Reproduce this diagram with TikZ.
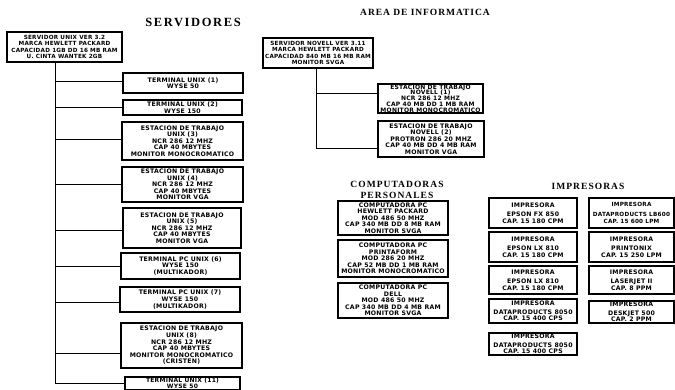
\documentclass[tikz,border=0pt]{standalone}
\usepackage{fontspec}
\newfontfamily\bxfont{DejaVu Sans}[LetterSpace=4]
\newfontfamily\ttlfont{Liberation Serif}
\tikzset{
 box/.style={draw, line width=1.1pt, align=center, inner sep=0pt,
   font=\bxfont\bfseries\fontsize{6.2}{6.6}\selectfont},
 tightbox/.style={box, font=\bxfont\bfseries\fontsize{6}{5.8}\selectfont},
 narrowbox/.style={box, font=\bxfont\bfseries\fontsize{5.7}{6.6}\selectfont},
 link/.style={line width=1pt},
 ttlbig/.style={inner sep=0pt, font=\ttlfont\bfseries\fontsize{12.5}{13}\selectfont\addfontfeature{LetterSpace=13}},
 ttlmid/.style={inner sep=0pt, align=center, font=\ttlfont\bfseries\fontsize{9.5}{10.5}\selectfont\addfontfeature{LetterSpace=11}},
 ttlsmall/.style={inner sep=0pt, font=\ttlfont\bfseries\fontsize{9.5}{10}\selectfont\addfontfeature{LetterSpace=10}}
}
\begin{document}
\begin{tikzpicture}[x=1pt,y=-1pt]
\useasboundingbox (0,0) rectangle (675,389);
\clip (0,0) rectangle (675,389);

% titles
\node[ttlbig] (tserv) at (193,22) {SERVIDORES};
\node[ttlsmall] (tarea) at (425,12) {AREA DE INFORMATICA};
\node[ttlmid] (tpc) at (397,190) {COMPUTADORAS\\PERSONALES};
\node[ttlmid] (timp) at (588,186) {IMPRESORAS};

% left: UNIX server and branches
\node[narrowbox, minimum width=115pt, minimum height=30pt] (sv1) at (64.5,47)
 {SERVIDOR UNIX VER 3.2\\MARCA HEWLETT PACKARD\\CAPACIDAD 1GB DD 16 MB RAM\\U. CINTA WANTEK 2GB};
\node[box, minimum width=120pt, minimum height=20pt] (t1) at (183,83)
 {TERMINAL UNIX (1)\\WYSE 50};
\node[box, minimum width=119pt, minimum height=15pt] (t2) at (182.5,107.5)
 {TERMINAL UNIX (2)\\WYSE 150};
\node[box, minimum width=121pt, minimum height=38pt] (t3) at (182.5,141)
 {ESTACION DE TRABAJO\\UNIX (3)\\NCR 286 12 MHZ\\CAP 40 MBYTES\\MONITOR MONOCROMATICO};
\node[box, minimum width=121pt, minimum height=35pt] (t4) at (182.5,184.5)
 {ESTACION DE TRABAJO\\UNIX (4)\\NCR 286 12 MHZ\\CAP 40 MBYTES\\MONITOR VGA};
\node[box, minimum width=118pt, minimum height=40pt] (t5) at (182,228)
 {ESTACION DE TRABAJO\\UNIX (5)\\NCR 286 12 MHZ\\CAP 40 MBYTES\\MONITOR VGA};
\node[box, minimum width=119pt, minimum height=26pt] (t6) at (180.5,266)
 {TERMINAL PC UNIX (6)\\WYSE 150\\(MULTIKADOR)};
\node[box, minimum width=120pt, minimum height=25pt] (t7) at (180,299.5)
 {TERMINAL PC UNIX (7)\\WYSE 150\\(MULTIKADOR)};
\node[box, minimum width=121pt, minimum height=45pt] (t8) at (181.5,345.5)
 {ESTACION DE TRABAJO\\UNIX (8)\\NCR 286 12 MHZ\\CAP 40 MBYTES\\MONITOR MONOCROMATICO\\(CRISTEN)};
\node[tightbox, minimum width=115pt, minimum height=13pt] (t9) at (182.5,383.5)
 {TERMINAL UNIX (11)\\WYSE 50};

\coordinate (sp1) at (55,383);
\coordinate (b1) at ([yshift=2pt]t1.west);
\coordinate (b2) at (t2.west);
\coordinate (b3) at ([yshift=2pt]t3.west);
\coordinate (b4) at (t4.west);
\coordinate (b5) at ([yshift=-2pt]t5.west);
\coordinate (b6) at (t6.west);
\coordinate (b7) at ([yshift=-2.5pt]t7.west);
\coordinate (b8) at ([yshift=-7.5pt]t8.west);
\coordinate (b9) at ([yshift=0.5pt]t9.west);
\draw[link] (sp1 |- sv1.south) -- (sp1) -- (b9);
\foreach \i in {1,...,8} {\draw[link] (b\i -| sp1) -- (b\i);}

% right: NOVELL server
\node[narrowbox, minimum width=110pt, minimum height=30pt] (sv2) at (318,53)
 {SERVIDOR NOVELL VER 3.11\\MARCA HEWLETT PACKARD\\CAPACIDAD 840 MB 16 MB RAM\\MONITOR SVGA};
\node[tightbox, minimum width=105pt, minimum height=29pt] (ea) at (430.5,98.5)
 {ESTACION DE TRABAJO\\NOVELL (1)\\NCR 286 12 MHZ\\CAP 40 MB DD 1 MB RAM\\MONITOR MONOCROMATICO};
\node[box, minimum width=106pt, minimum height=36pt] (eb) at (431,139)
 {ESTACION DE TRABAJO\\NOVELL (2)\\PROTRON 286 20 MHZ\\CAP 40 MB DD 4 MB RAM\\MONITOR VGA};
\coordinate (sp2) at (316,148);
\coordinate (ba) at ([yshift=5.5pt]ea.west);
\coordinate (bb) at ([yshift=-9pt]eb.west);
\draw[link] (sp2 |- sv2.south) -- (sp2) -- (bb);
\draw[link] (ba -| sp2) -- (ba);

% personal computers
\node[box, minimum width=110pt, minimum height=34pt] (pc1) at (393,218)
 {COMPUTADORA PC\\HEWLETT PACKARD\\MOD 486 50 MHZ\\CAP 340 MB DD 8 MB RAM\\MONITOR SVGA};
\node[box, minimum width=110pt, minimum height=37pt] (pc2) at (393,258.5)
 {COMPUTADORA PC\\PRINTAFORM\\MOD 286 20 MHZ\\CAP 52 MB DD 1 MB RAM\\MONITOR MONOCROMATICO};
\node[box, minimum width=110pt, minimum height=35pt] (pc3) at (393,300.5)
 {COMPUTADORA PC\\DELL\\MOD 486 50 MHZ\\CAP 340 MB DD 4 MB RAM\\MONITOR SVGA};

% printers
\node[box, minimum width=88pt, minimum height=30pt] (p1) at (533,213)
 {IMPRESORA\\[3pt]EPSON FX 850\\CAP. 15 180 CPM};
\node[box, minimum width=88pt, minimum height=30pt] (p2) at (533,247)
 {IMPRESORA\\[3pt]EPSON LX 810\\CAP. 15 180 CPM};
\node[box, minimum width=88pt, minimum height=28pt] (p3) at (533,280)
 {IMPRESORA\\[3pt]EPSON LX 810\\CAP. 15 180 CPM};
\node[box, minimum width=88pt, minimum height=24pt] (p4) at (533,311)
 {IMPRESORA\\[2pt]DATAPRODUCTS 8050\\CAP. 15 400 CPS};
\node[box, minimum width=88pt, minimum height=22pt] (p5) at (533,344)
 {IMPRESORA\\[2pt]DATAPRODUCTS 8050\\CAP. 15 400 CPS};
\node[narrowbox, minimum width=85pt, minimum height=30pt] (p6) at (631.5,213)
 {IMPRESORA\\[3pt]DATAPRODUCTS LB600\\CAP. 15 600 LPM};
\node[box, minimum width=85pt, minimum height=30pt] (p7) at (631.5,247)
 {IMPRESORA\\[3pt]PRINTONIX\\CAP. 15 250 LPM};
\node[box, minimum width=85pt, minimum height=28pt] (p8) at (631.5,280)
 {IMPRESORA\\[3pt]LASERJET II\\CAP. 8 PPM};
\node[box, minimum width=85pt, minimum height=22pt] (p9) at (631.5,312)
 {IMPRESORA\\[2pt]DESKJET 500\\CAP. 2 PPM};
\end{tikzpicture}
\end{document}
